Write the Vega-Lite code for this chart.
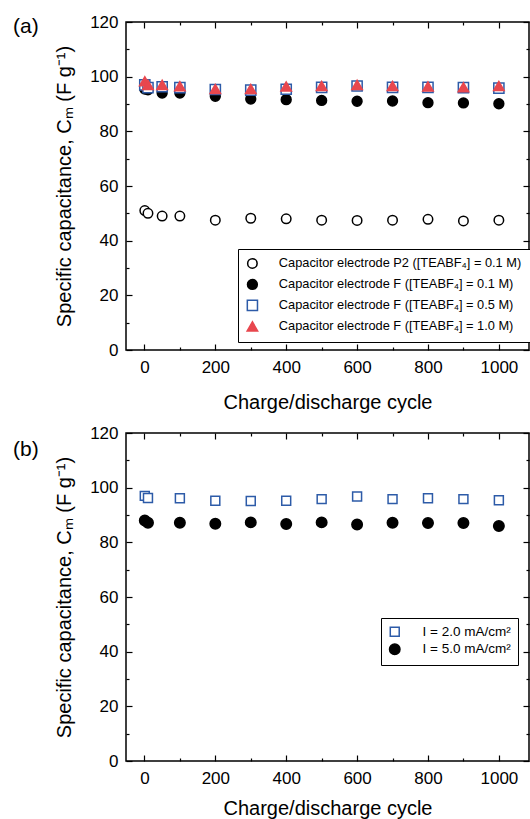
{
  "$schema": "https://vega.github.io/schema/vega-lite/v6.json",
  "padding": {"left": 12, "top": 12, "right": 0, "bottom": 0},
  "spacing": 10,
  "datasets": {
    "a": [
      {"cycle": 1, "cm": 51, "series": "Capacitor electrode P2 ([TEABF₄] = 0.1 M)"},
      {"cycle": 10, "cm": 50, "series": "Capacitor electrode P2 ([TEABF₄] = 0.1 M)"},
      {"cycle": 50, "cm": 49, "series": "Capacitor electrode P2 ([TEABF₄] = 0.1 M)"},
      {"cycle": 100, "cm": 49, "series": "Capacitor electrode P2 ([TEABF₄] = 0.1 M)"},
      {"cycle": 200, "cm": 47.5, "series": "Capacitor electrode P2 ([TEABF₄] = 0.1 M)"},
      {"cycle": 300, "cm": 48.2, "series": "Capacitor electrode P2 ([TEABF₄] = 0.1 M)"},
      {"cycle": 400, "cm": 48, "series": "Capacitor electrode P2 ([TEABF₄] = 0.1 M)"},
      {"cycle": 500, "cm": 47.5, "series": "Capacitor electrode P2 ([TEABF₄] = 0.1 M)"},
      {"cycle": 600, "cm": 47.4, "series": "Capacitor electrode P2 ([TEABF₄] = 0.1 M)"},
      {"cycle": 700, "cm": 47.5, "series": "Capacitor electrode P2 ([TEABF₄] = 0.1 M)"},
      {"cycle": 800, "cm": 47.8, "series": "Capacitor electrode P2 ([TEABF₄] = 0.1 M)"},
      {"cycle": 900, "cm": 47.2, "series": "Capacitor electrode P2 ([TEABF₄] = 0.1 M)"},
      {"cycle": 1000, "cm": 47.5, "series": "Capacitor electrode P2 ([TEABF₄] = 0.1 M)"},
      {"cycle": 1, "cm": 95.5, "series": "Capacitor electrode F ([TEABF₄] = 0.1 M)"},
      {"cycle": 10, "cm": 95.2, "series": "Capacitor electrode F ([TEABF₄] = 0.1 M)"},
      {"cycle": 50, "cm": 94, "series": "Capacitor electrode F ([TEABF₄] = 0.1 M)"},
      {"cycle": 100, "cm": 94, "series": "Capacitor electrode F ([TEABF₄] = 0.1 M)"},
      {"cycle": 200, "cm": 92.8, "series": "Capacitor electrode F ([TEABF₄] = 0.1 M)"},
      {"cycle": 300, "cm": 91.8, "series": "Capacitor electrode F ([TEABF₄] = 0.1 M)"},
      {"cycle": 400, "cm": 91.6, "series": "Capacitor electrode F ([TEABF₄] = 0.1 M)"},
      {"cycle": 500, "cm": 91.3, "series": "Capacitor electrode F ([TEABF₄] = 0.1 M)"},
      {"cycle": 600, "cm": 91.0, "series": "Capacitor electrode F ([TEABF₄] = 0.1 M)"},
      {"cycle": 700, "cm": 91.1, "series": "Capacitor electrode F ([TEABF₄] = 0.1 M)"},
      {"cycle": 800, "cm": 90.5, "series": "Capacitor electrode F ([TEABF₄] = 0.1 M)"},
      {"cycle": 900, "cm": 90.4, "series": "Capacitor electrode F ([TEABF₄] = 0.1 M)"},
      {"cycle": 1000, "cm": 90.1, "series": "Capacitor electrode F ([TEABF₄] = 0.1 M)"},
      {"cycle": 1, "cm": 97, "series": "Capacitor electrode F ([TEABF₄] = 0.5 M)"},
      {"cycle": 10, "cm": 96, "series": "Capacitor electrode F ([TEABF₄] = 0.5 M)"},
      {"cycle": 50, "cm": 96.3, "series": "Capacitor electrode F ([TEABF₄] = 0.5 M)"},
      {"cycle": 100, "cm": 96, "series": "Capacitor electrode F ([TEABF₄] = 0.5 M)"},
      {"cycle": 200, "cm": 95.3, "series": "Capacitor electrode F ([TEABF₄] = 0.5 M)"},
      {"cycle": 300, "cm": 95.1, "series": "Capacitor electrode F ([TEABF₄] = 0.5 M)"},
      {"cycle": 400, "cm": 95.4, "series": "Capacitor electrode F ([TEABF₄] = 0.5 M)"},
      {"cycle": 500, "cm": 96.1, "series": "Capacitor electrode F ([TEABF₄] = 0.5 M)"},
      {"cycle": 600, "cm": 96.6, "series": "Capacitor electrode F ([TEABF₄] = 0.5 M)"},
      {"cycle": 700, "cm": 96.1, "series": "Capacitor electrode F ([TEABF₄] = 0.5 M)"},
      {"cycle": 800, "cm": 96.1, "series": "Capacitor electrode F ([TEABF₄] = 0.5 M)"},
      {"cycle": 900, "cm": 96, "series": "Capacitor electrode F ([TEABF₄] = 0.5 M)"},
      {"cycle": 1000, "cm": 95.8, "series": "Capacitor electrode F ([TEABF₄] = 0.5 M)"},
      {"cycle": 1, "cm": 98.3, "series": "Capacitor electrode F ([TEABF₄] = 1.0 M)"},
      {"cycle": 10, "cm": 97, "series": "Capacitor electrode F ([TEABF₄] = 1.0 M)"},
      {"cycle": 50, "cm": 97, "series": "Capacitor electrode F ([TEABF₄] = 1.0 M)"},
      {"cycle": 100, "cm": 96.5, "series": "Capacitor electrode F ([TEABF₄] = 1.0 M)"},
      {"cycle": 200, "cm": 95.5, "series": "Capacitor electrode F ([TEABF₄] = 1.0 M)"},
      {"cycle": 300, "cm": 95.5, "series": "Capacitor electrode F ([TEABF₄] = 1.0 M)"},
      {"cycle": 400, "cm": 96.4, "series": "Capacitor electrode F ([TEABF₄] = 1.0 M)"},
      {"cycle": 500, "cm": 96.6, "series": "Capacitor electrode F ([TEABF₄] = 1.0 M)"},
      {"cycle": 600, "cm": 97, "series": "Capacitor electrode F ([TEABF₄] = 1.0 M)"},
      {"cycle": 700, "cm": 96.6, "series": "Capacitor electrode F ([TEABF₄] = 1.0 M)"},
      {"cycle": 800, "cm": 96.4, "series": "Capacitor electrode F ([TEABF₄] = 1.0 M)"},
      {"cycle": 900, "cm": 96.1, "series": "Capacitor electrode F ([TEABF₄] = 1.0 M)"},
      {"cycle": 1000, "cm": 96.6, "series": "Capacitor electrode F ([TEABF₄] = 1.0 M)"}
    ],
    "b": [
      {"cycle": 1, "cm": 88, "series": "I = 5.0 mA/cm²"},
      {"cycle": 10, "cm": 87.2, "series": "I = 5.0 mA/cm²"},
      {"cycle": 100, "cm": 87.2, "series": "I = 5.0 mA/cm²"},
      {"cycle": 200, "cm": 86.8, "series": "I = 5.0 mA/cm²"},
      {"cycle": 300, "cm": 87.3, "series": "I = 5.0 mA/cm²"},
      {"cycle": 400, "cm": 86.7, "series": "I = 5.0 mA/cm²"},
      {"cycle": 500, "cm": 87.3, "series": "I = 5.0 mA/cm²"},
      {"cycle": 600, "cm": 86.5, "series": "I = 5.0 mA/cm²"},
      {"cycle": 700, "cm": 87.2, "series": "I = 5.0 mA/cm²"},
      {"cycle": 800, "cm": 87.1, "series": "I = 5.0 mA/cm²"},
      {"cycle": 900, "cm": 87.1, "series": "I = 5.0 mA/cm²"},
      {"cycle": 1000, "cm": 86, "series": "I = 5.0 mA/cm²"},
      {"cycle": 1, "cm": 97, "series": "I = 2.0 mA/cm²"},
      {"cycle": 10, "cm": 96.2, "series": "I = 2.0 mA/cm²"},
      {"cycle": 100, "cm": 96.1, "series": "I = 2.0 mA/cm²"},
      {"cycle": 200, "cm": 95.2, "series": "I = 2.0 mA/cm²"},
      {"cycle": 300, "cm": 95.1, "series": "I = 2.0 mA/cm²"},
      {"cycle": 400, "cm": 95.2, "series": "I = 2.0 mA/cm²"},
      {"cycle": 500, "cm": 95.8, "series": "I = 2.0 mA/cm²"},
      {"cycle": 600, "cm": 96.8, "series": "I = 2.0 mA/cm²"},
      {"cycle": 700, "cm": 95.8, "series": "I = 2.0 mA/cm²"},
      {"cycle": 800, "cm": 96.1, "series": "I = 2.0 mA/cm²"},
      {"cycle": 900, "cm": 95.8, "series": "I = 2.0 mA/cm²"},
      {"cycle": 1000, "cm": 95.4, "series": "I = 2.0 mA/cm²"}
    ]
  },
  "vconcat": [
    {
      "width": 403,
      "height": 328,
      "title": {"text": "(a)", "anchor": "start", "frame": "group", "dx": -113, "dy": 24, "offset": 0, "fontSize": 21, "fontWeight": "normal", "color": "black"},
      "data": {"name": "a"},
      "layer": [
        {
          "mark": {"type": "point", "opacity": 1, "strokeWidth": 1.5},
          "encoding": {
            "x": {"field": "cycle", "type": "quantitative", "scale": {"domain": [-52, 1085], "nice": false, "zero": false},
              "axis": {"orient": "bottom", "values": [0,100,200,300,400,500,600,700,800,900,1000], "format": "d",
                "labelExpr": "datum.value % 200 === 0 ? datum.label : ''",
                "tickSize": {"condition": {"test": "datum.value % 200 === 0", "value": -6}, "value": -3},
                "labelPadding": 15, "title": "Charge/discharge cycle", "titlePadding": 14}},
            "y": {"field": "cm", "type": "quantitative", "scale": {"domain": [0, 120], "nice": false},
              "axis": {"orient": "left", "values": [0,10,20,30,40,50,60,70,80,90,100,110,120], "format": "d",
                "labelExpr": "datum.value % 20 === 0 ? datum.label : ''",
                "tickSize": {"condition": {"test": "datum.value % 20 === 0", "value": -6}, "value": -3},
                "labelPadding": 14, "title": "Specific capacitance, Cₘ (F g⁻¹)", "titlePadding": 15}},
            "shape": {"field": "series", "type": "nominal",
              "scale": {"domain": ["Capacitor electrode P2 ([TEABF₄] = 0.1 M)", "Capacitor electrode F ([TEABF₄] = 0.1 M)", "Capacitor electrode F ([TEABF₄] = 0.5 M)", "Capacitor electrode F ([TEABF₄] = 1.0 M)"],
                "range": ["circle", "circle", "square", "triangle-up"]},
              "legend": {"orient": "none", "legendX": 112, "legendY": 227, "title": null, "labelFontSize": 12.8, "labelLimit": 400, "padding": 8, "rowPadding": 4, "strokeColor": "black", "fillColor": "white", "labelOffset": 20}},
            "stroke": {"field": "series", "type": "nominal",
              "scale": {"domain": ["Capacitor electrode P2 ([TEABF₄] = 0.1 M)", "Capacitor electrode F ([TEABF₄] = 0.1 M)", "Capacitor electrode F ([TEABF₄] = 0.5 M)", "Capacitor electrode F ([TEABF₄] = 1.0 M)"],
                "range": ["#000000", "#000000", "#2d5ba8", "#e8474e"]},
              "legend": {"orient": "none", "legendX": 112, "legendY": 227, "title": null, "labelFontSize": 12.8, "labelLimit": 400, "padding": 8, "rowPadding": 4, "strokeColor": "black", "fillColor": "white", "labelOffset": 20}},
            "fill": {"field": "series", "type": "nominal",
              "scale": {"domain": ["Capacitor electrode P2 ([TEABF₄] = 0.1 M)", "Capacitor electrode F ([TEABF₄] = 0.1 M)", "Capacitor electrode F ([TEABF₄] = 0.5 M)", "Capacitor electrode F ([TEABF₄] = 1.0 M)"],
                "range": ["#ffffff", "#000000", "#ffffff", "#e8474e"]},
              "legend": {"orient": "none", "legendX": 112, "legendY": 227, "title": null, "labelFontSize": 12.8, "labelLimit": 400, "padding": 8, "rowPadding": 4, "strokeColor": "black", "fillColor": "white", "labelOffset": 20}},
            "size": {"field": "series", "type": "nominal",
              "scale": {"domain": ["Capacitor electrode P2 ([TEABF₄] = 0.1 M)", "Capacitor electrode F ([TEABF₄] = 0.1 M)", "Capacitor electrode F ([TEABF₄] = 0.5 M)", "Capacitor electrode F ([TEABF₄] = 1.0 M)"],
                "range": [90, 110, 80, 170]},
              "legend": {"orient": "none", "legendX": 112, "legendY": 227, "title": null, "labelFontSize": 12.8, "labelLimit": 400, "padding": 8, "rowPadding": 4, "strokeColor": "black", "fillColor": "white", "labelOffset": 20}}
          }
        },
        {
          "mark": {"type": "point", "opacity": 0},
          "encoding": {
            "x": {"field": "cycle", "type": "quantitative",
              "axis": {"orient": "top", "values": [0,100,200,300,400,500,600,700,800,900,1000], "labels": false, "title": null,
                "tickSize": {"condition": {"test": "datum.value % 200 === 0", "value": -6}, "value": -3}}},
            "y": {"field": "cm", "type": "quantitative",
              "axis": {"orient": "right", "values": [0,10,20,30,40,50,60,70,80,90,100,110,120], "labels": false, "title": null,
                "tickSize": {"condition": {"test": "datum.value % 20 === 0", "value": -6}, "value": -3}}}
          }
        }
      ],
      "resolve": {"axis": {"x": "independent", "y": "independent"}}
    },
    {
      "width": 403,
      "height": 328,
      "title": {"text": "(b)", "anchor": "start", "frame": "group", "dx": -113, "dy": 36, "offset": 0, "fontSize": 21, "fontWeight": "normal", "color": "black"},
      "data": {"name": "b"},
      "layer": [
        {
          "mark": {"type": "point", "opacity": 1, "strokeWidth": 1.5},
          "encoding": {
            "x": {"field": "cycle", "type": "quantitative", "scale": {"domain": [-52, 1085], "nice": false, "zero": false},
              "axis": {"orient": "bottom", "values": [0,100,200,300,400,500,600,700,800,900,1000], "format": "d",
                "labelExpr": "datum.value % 200 === 0 ? datum.label : ''",
                "tickSize": {"condition": {"test": "datum.value % 200 === 0", "value": -6}, "value": -3},
                "labelPadding": 15, "title": "Charge/discharge cycle", "titlePadding": 9}},
            "y": {"field": "cm", "type": "quantitative", "scale": {"domain": [0, 120], "nice": false},
              "axis": {"orient": "left", "values": [0,10,20,30,40,50,60,70,80,90,100,110,120], "format": "d",
                "labelExpr": "datum.value % 20 === 0 ? datum.label : ''",
                "tickSize": {"condition": {"test": "datum.value % 20 === 0", "value": -6}, "value": -3},
                "labelPadding": 14, "title": "Specific capacitance, Cₘ (F g⁻¹)", "titlePadding": 15}},
            "shape": {"field": "series", "type": "nominal",
              "scale": {"domain": ["I = 2.0 mA/cm²", "I = 5.0 mA/cm²"], "range": ["square", "circle"]},
              "legend": {"orient": "none", "legendX": 255, "legendY": 185, "title": null, "labelFontSize": 13.5, "labelLimit": 400, "padding": 7, "rowPadding": 0.5, "strokeColor": "black", "fillColor": "white", "labelOffset": 21}},
            "stroke": {"field": "series", "type": "nominal",
              "scale": {"domain": ["I = 2.0 mA/cm²", "I = 5.0 mA/cm²"], "range": ["#2d5ba8", "#000000"]},
              "legend": {"orient": "none", "legendX": 255, "legendY": 185, "title": null, "labelFontSize": 13.5, "labelLimit": 400, "padding": 7, "rowPadding": 0.5, "strokeColor": "black", "fillColor": "white", "labelOffset": 21}},
            "fill": {"field": "series", "type": "nominal",
              "scale": {"domain": ["I = 2.0 mA/cm²", "I = 5.0 mA/cm²"], "range": ["#ffffff", "#000000"]},
              "legend": {"orient": "none", "legendX": 255, "legendY": 185, "title": null, "labelFontSize": 13.5, "labelLimit": 400, "padding": 7, "rowPadding": 0.5, "strokeColor": "black", "fillColor": "white", "labelOffset": 21}},
            "size": {"field": "series", "type": "nominal",
              "scale": {"domain": ["I = 2.0 mA/cm²", "I = 5.0 mA/cm²"], "range": [80, 110]},
              "legend": {"orient": "none", "legendX": 255, "legendY": 185, "title": null, "labelFontSize": 13.5, "labelLimit": 400, "padding": 7, "rowPadding": 0.5, "strokeColor": "black", "fillColor": "white", "labelOffset": 21}}
          }
        },
        {
          "mark": {"type": "point", "opacity": 0},
          "encoding": {
            "x": {"field": "cycle", "type": "quantitative",
              "axis": {"orient": "top", "values": [0,100,200,300,400,500,600,700,800,900,1000], "labels": false, "title": null,
                "tickSize": {"condition": {"test": "datum.value % 200 === 0", "value": -6}, "value": -3}}},
            "y": {"field": "cm", "type": "quantitative",
              "axis": {"orient": "right", "values": [0,10,20,30,40,50,60,70,80,90,100,110,120], "labels": false, "title": null,
                "tickSize": {"condition": {"test": "datum.value % 20 === 0", "value": -6}, "value": -3}}}
          }
        }
      ],
      "resolve": {"axis": {"x": "independent", "y": "independent"}}
    }
  ],
  "resolve": {
    "scale": {"shape": "independent", "stroke": "independent", "fill": "independent", "size": "independent"},
    "legend": {"shape": "independent", "stroke": "independent", "fill": "independent", "size": "independent"}
  },
  "config": {
    "font": "Liberation Sans",
    "view": {"stroke": "#000000", "strokeWidth": 1.5},
    "axis": {"domain": false, "grid": false, "labelFontSize": 17, "titleFontSize": 20, "titleFontWeight": "normal", "labelColor": "#000000", "titleColor": "#000000", "tickColor": "#000000", "tickWidth": 1.2, "labelOverlap": false, "labelFlush": false},
    "legend": {"labelColor": "#000000", "symbolStrokeWidth": 1.5}
  }
}
